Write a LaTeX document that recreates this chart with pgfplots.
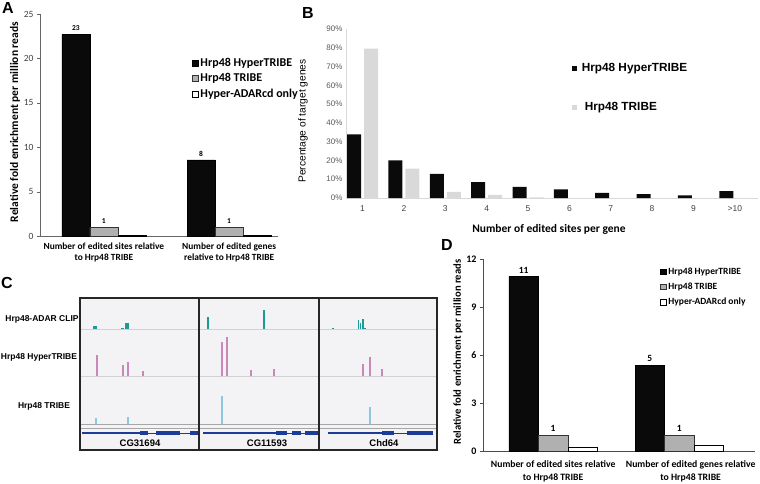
\documentclass[border=0pt]{standalone}
\usepackage{pgfplots}
\pgfplotsset{compat=1.18}
\usepackage{fontspec}
\setmainfont{Carlito}
\newfontfamily\arial{Liberation Sans}

\definecolor{barblack}{HTML}{0A0A0A}
\definecolor{bargray}{HTML}{B0B0B0}
\definecolor{tribegray}{HTML}{D9D9D9}
\definecolor{clipcol}{HTML}{1E9A96}
\definecolor{hyper}{HTML}{C888B8}
\definecolor{tribe}{HTML}{8CC6E0}
\definecolor{gene}{HTML}{1C3C9A}
\definecolor{igvbg}{HTML}{F3F3F5}

\pgfplotsset{
  sq legend/.style={legend image code/.code={\draw[##1] (0pt,-2.8pt) rectangle (5.6pt,2.8pt); \path (7.2pt,0pt);}},
  fillsq legend/.style={legend image code/.code={\fill[##1] (0pt,-2.4pt) rectangle (5pt,2.4pt); \path (9pt,0pt);}},
}

\begin{document}
\begin{tikzpicture}
\useasboundingbox (0,0) rectangle (760pt,-484pt);

% ---------- A ----------
\begin{axis}[
  at={(40pt,-236pt)}, anchor=south west, scale only axis,
  width=238pt, height=222pt,
  xmin=-0.51, xmax=1.39, ymin=0, ymax=25,
  axis lines=left, axis line style={-, black!60},
  tick align=outside, major tick length=3pt, tick style={black!60},
  ytick={0,5,...,25}, yticklabels={0,5,10,15,20,25},
  yticklabel style={font=\fontsize{9.5}{11}\selectfont, text=black!75},
  xtick={0,1}, xtick style={draw=none},
  xticklabels={{Number of edited sites relative\\to Hrp48 TRIBE},{Number of edited genes\\relative to Hrp48 TRIBE}},
  xticklabel style={align=center, font=\bfseries\fontsize{9.4}{11}\selectfont},
  ybar=0pt, bar width=28pt,
  legend style={at={(0.639,0.805)}, anchor=north west, draw=none, fill=none,
    inner sep=0pt, row sep=4.5pt, font=\bfseries\fontsize{12}{13}\selectfont,
    nodes={inner sep=0.6pt}},
  legend cell align=left,
]
\addplot[sq legend, fill=barblack, draw=black, nodes near coords, point meta=explicit symbolic,
  every node near coord/.append style={font=\bfseries\fontsize{7.5}{9}\selectfont, black}]
  coordinates {(0,22.7)[23] (1,8.56)[8]};
\addplot[sq legend, fill=bargray, draw=black!80, nodes near coords, point meta=explicit symbolic,
  every node near coord/.append style={font=\bfseries\fontsize{7.5}{9}\selectfont, black}]
  coordinates {(0,1.0)[1] (1,1.0)[1]};
\addplot[sq legend, fill=white, draw=black]
  coordinates {(0,0.12) (1,0.12)};
\legend{Hrp48 HyperTRIBE, Hrp48 TRIBE, Hyper-ADARcd only}
\end{axis}
\node[rotate=90, font=\bfseries\fontsize{11.5}{13}\selectfont] at (15pt,-122pt) {Relative fold enrichment per million reads};

% ---------- B ----------
\begin{axis}[
  at={(346pt,-198pt)}, anchor=south west, scale only axis,
  width=412pt, height=169pt,
  xmin=0.6, xmax=10.56, ymin=0, ymax=90,
  axis lines=left, axis line style={-, black!15, line width=1pt},
  major tick length=0pt,
  ytick={0,10,...,90}, yticklabels={0\%,10\%,20\%,30\%,40\%,50\%,60\%,70\%,80\%,90\%},
  yticklabel style={font=\arial\fontsize{8}{9}\selectfont, text=black!65},
  xtick={1,...,10}, xticklabels={1,2,3,4,5,6,7,8,9,>10},
  xticklabel style={font=\arial\fontsize{8.5}{10}\selectfont, text=black!75, yshift=-4pt},
  ybar=3pt, bar width=14pt,
  legend style={at={(0.5485,0.8)}, anchor=north west, draw=none, fill=none,
    inner sep=0pt, row sep=28pt, font=\arial\bfseries\fontsize{11.8}{13}\selectfont,
    nodes={inner sep=0.6pt}},
  legend cell align=left,
]
\addplot[fillsq legend, fill=barblack, draw=none]
  coordinates {(1,33.9) (2,20.1) (3,12.9) (4,8.4) (5,5.9) (6,4.6) (7,2.7) (8,2.1) (9,1.4) (10,3.7)};
\addplot[fillsq legend, fill=tribegray, draw=none]
  coordinates {(1,79.5) (2,15.6) (3,3.2) (4,1.6) (5,0.3) (6,0) (7,0) (8,0) (9,0) (10,0)};
\legend{Hrp48 HyperTRIBE, \hspace{3pt}Hrp48 TRIBE}
\end{axis}
\node[rotate=90, font=\arial\fontsize{10.2}{12}\selectfont] at (303pt,-121pt) {Percentage of target genes};
\node[font=\bfseries\fontsize{11.5}{13}\selectfont] at (549pt,-229pt) {Number of edited sites per gene};

% ---------- C ----------
\begin{axis}[
  at={(80pt,-450pt)}, anchor=south west, scale only axis,
  width=357pt, height=152pt,
  xmin=80, xmax=437, ymin=298, ymax=450, y dir=reverse,
  xtick=\empty, ytick=\empty,
  axis on top,
  axis line style={line width=1.1pt, black!85},
  axis background/.style={fill=igvbg},
  unbounded coords=jump,
]
% track separators
\addplot[black!18, line width=0.8pt] coordinates {(80,329) (437,329) (nan,nan) (80,376) (437,376)};
\addplot[black!35, line width=0.8pt] coordinates {(80,424) (437,424) (nan,nan) (80,428) (437,428)};
% CLIP
\addplot[clipcol, line width=4pt] coordinates {(95,329) (95,326) (nan,nan) (126.5,329) (126.5,322.5)};
\addplot[clipcol, line width=3pt] coordinates {(122.5,329) (122.5,327.6)};
\addplot[clipcol, line width=2.2pt] coordinates {(208,329) (208,317) (nan,nan) (264,329) (264,310)};
\addplot[clipcol, line width=1.3pt] coordinates {(358.5,329) (358.5,320) (nan,nan) (360.5,329) (360.5,322.5)
  (nan,nan) (363,329) (363,318.5) (nan,nan) (333,329) (333,327.5) (nan,nan) (365,329) (365,327.5)};
% HyperTRIBE
\addplot[hyper, line width=1.2pt] coordinates {
  (97,376) (97,355) (nan,nan) (123,376) (123,365) (nan,nan) (128,376) (128,362) (nan,nan)
  (143,376) (143,371) (nan,nan) (222,376) (222,342) (nan,nan) (227,376) (227,337) (nan,nan)
  (251,376) (251,370) (nan,nan) (274,376) (274,369) (nan,nan) (363,376) (363,364) (nan,nan)
  (370,376) (370,357) (nan,nan) (382,376) (382,369)};
% TRIBE
\addplot[tribe, line width=1.1pt] coordinates {
  (96,424) (96,418) (nan,nan) (128,424) (128,417) (nan,nan) (222,424) (222,396) (nan,nan) (370,424) (370,407)};
% genes
\addplot[gene, line width=1pt] coordinates {(148,433) (156,433) (nan,nan) (180,433) (190,433)
  (nan,nan) (287,433) (292,433) (nan,nan) (301,433) (305,433) (nan,nan) (394,433) (407,433)};
\addplot[gene, line width=2pt] coordinates {(82,433) (140,433) (nan,nan) (203,433) (276,433) (nan,nan) (328,433) (382,433)};
\addplot[gene, line width=4pt] coordinates {(140,433) (148,433) (nan,nan) (156,433) (180,433) (nan,nan) (190,433) (199,433)
  (nan,nan) (276,433) (287,433) (nan,nan) (292,433) (301,433) (nan,nan) (305,433) (318,433)
  (nan,nan) (382,433) (394,433) (nan,nan) (407,433) (433,433)};
% panel dividers
\addplot[black!85, line width=1.1pt] coordinates {(199,298) (199,450) (nan,nan) (319,298) (319,450)};
\node[font=\arial\bfseries\fontsize{9.5}{11}\selectfont] at (axis cs:140,443) {CG31694};
\node[font=\arial\bfseries\fontsize{9.5}{11}\selectfont] at (axis cs:267,443) {CG11593};
\node[font=\arial\bfseries\fontsize{9.5}{11}\selectfont] at (axis cs:384,443) {Chd64};
\end{axis}
\node[font=\arial\bfseries\fontsize{8.5}{10}\selectfont] at (42pt,-319pt) {Hrp48-ADAR CLIP};
\node[font=\arial\bfseries\fontsize{8.5}{10}\selectfont] at (39pt,-357pt) {Hrp48 HyperTRIBE};
\node[font=\arial\bfseries\fontsize{8.5}{10}\selectfont] at (44pt,-406pt) {Hrp48 TRIBE};

% ---------- D ----------
\begin{axis}[
  at={(483pt,-451pt)}, anchor=south west, scale only axis,
  width=272pt, height=192pt,
  xmin=-0.556, xmax=1.6, ymin=0, ymax=12,
  axis lines=left, axis line style={-, black!70},
  tick align=outside, major tick length=3pt, tick style={black!70},
  ytick={0,3,...,12}, yticklabels={0,3,6,9,12},
  yticklabel style={font=\bfseries\fontsize{10}{11}\selectfont},
  xtick={0,1.09}, xtick style={draw=none},
  xticklabels={{Number of edited sites relative\\to Hrp48 TRIBE},{Number of edited genes relative\\to Hrp48 TRIBE}},
  xticklabel style={align=center, font=\bfseries\fontsize{9.7}{13}\selectfont, yshift=-3pt},
  ybar=0pt, bar width=29.5pt,
  legend style={at={(0.651,0.96)}, anchor=north west, draw=none, fill=none,
    inner sep=0pt, row sep=6pt, font=\bfseries\fontsize{9.5}{11}\selectfont,
    nodes={inner sep=0.6pt}},
  legend cell align=left,
]
\addplot[sq legend, fill=barblack, draw=black, nodes near coords, point meta=explicit symbolic,
  every node near coord/.append style={font=\bfseries\fontsize{9.5}{11}\selectfont, black}]
  coordinates {(0,10.9)[11] (1,5.35)[5]};
\addplot[sq legend, fill=bargray, draw=black!80, nodes near coords, point meta=explicit symbolic,
  every node near coord/.append style={font=\bfseries\fontsize{9.5}{11}\selectfont, black}]
  coordinates {(0,1.0)[1] (1,1.0)[1]};
\addplot[sq legend, fill=white, draw=black]
  coordinates {(0,0.23) (1,0.35)};
\legend{Hrp48 HyperTRIBE, Hrp48 TRIBE, Hyper-ADARcd only}
\end{axis}
\node[rotate=90, font=\bfseries\fontsize{10.6}{12}\selectfont] at (458pt,-352pt) {Relative fold enrichment per million reads};

% panel letters
\node[font=\arial\bfseries\fontsize{16}{18}\selectfont] at (8pt,-8pt) {A};
\node[font=\arial\bfseries\fontsize{16}{18}\selectfont] at (308pt,-12.5pt) {B};
\node[font=\arial\bfseries\fontsize{16}{18}\selectfont] at (7pt,-283pt) {C};
\node[font=\arial\bfseries\fontsize{16}{18}\selectfont] at (447pt,-245pt) {D};
\end{tikzpicture}
\end{document}
